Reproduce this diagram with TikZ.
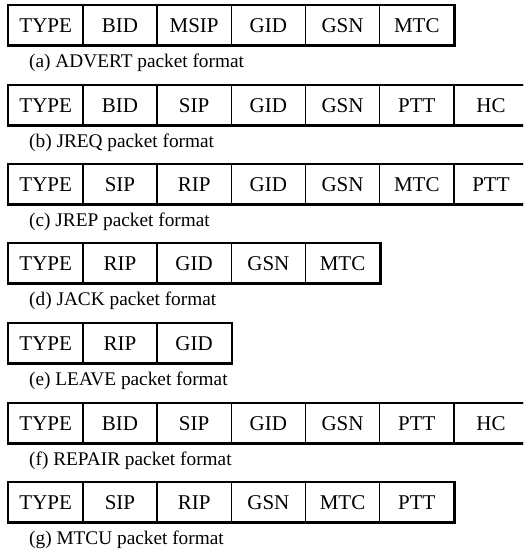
\documentclass[tikz,border=0pt]{standalone}
\usepackage{fontspec}
\setmainfont{Liberation Serif}
\begin{document}
\begin{tikzpicture}[x=1pt,y=-1pt,
  cell/.style={draw=black,line width=1.3pt,minimum width=74.2pt,minimum height=39pt,inner sep=0pt,
    text height=14pt,text depth=0pt,
    anchor=north west,font=\fontsize{21}{24}\selectfont},
  frame/.style={draw=black,line width=2.6pt},
  caption/.style={anchor=base west,inner sep=0pt,font=\fontsize{19.3}{22}\selectfont}]
\useasboundingbox (0,0) rectangle (523,549);
\clip (0,0) rectangle (523,549);
\foreach \r/\top/\labels/\n/\cap in {
  a/5/{TYPE,BID,MSIP,GID,GSN,MTC}/6/{(a) ADVERT packet format},
  b/85/{TYPE,BID,SIP,GID,GSN,PTT,HC}/7/{(b) JREQ packet format},
  c/164/{TYPE,SIP,RIP,GID,GSN,MTC,PTT}/7/{(c) JREP packet format},
  d/243/{TYPE,RIP,GID,GSN,MTC}/5/{(d) JACK packet format},
  e/323/{TYPE,RIP,GID}/3/{(e) LEAVE packet format},
  f/403/{TYPE,BID,SIP,GID,GSN,PTT,HC}/7/{(f) REPAIR packet format},
  g/482/{TYPE,SIP,RIP,GSN,MTC,PTT}/6/{(g) MTCU packet format}}{
  \foreach \lab [count=\i] in \labels {
    \node[cell] (\r\i) at ({8+(\i-1)*74.2},\top) {\lab};
  }
  \draw[frame] (\r1.north west) rectangle (\r\n.south east);
  \node[caption] (cap\r) at (29,{\top+62.5}) {\cap};
}
\end{tikzpicture}
\end{document}
